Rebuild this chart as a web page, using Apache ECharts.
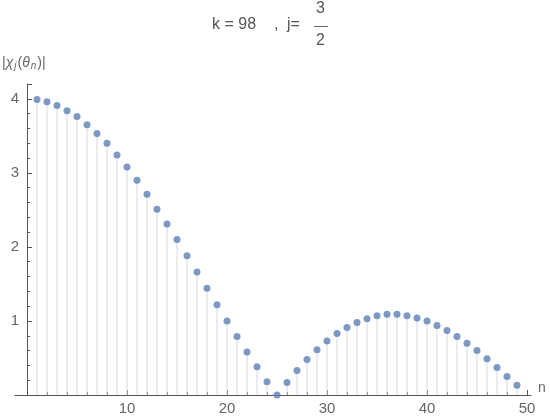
<!DOCTYPE html>
<html>
<head>
<meta charset="utf-8">
<script src="https://cdn.jsdelivr.net/npm/echarts@6/dist/echarts.min.js"></script>
<style>
  html, body { margin: 0; padding: 0; background: #fff; }
  #chart { width: 550px; height: 420px; }
</style>
</head>
<body>
<div id="chart"></div>
<script>
// n values and |chi_j(theta_n)|
const nValues = [1, 2, 3, 4, 5, 6, 7, 8, 9, 10, 11, 12, 13, 14, 15, 16, 17, 18, 19, 20,
  21, 22, 23, 24, 25, 26, 27, 28, 29, 30, 31, 32, 33, 34, 35, 36, 37, 38, 39, 40,
  41, 42, 43, 44, 45, 46, 47, 48, 49]
const chiValues = [3.99, 3.96, 3.91, 3.84, 3.76, 3.65, 3.53, 3.40, 3.24, 3.08,
  2.90, 2.71, 2.51, 2.31, 2.10, 1.88, 1.66, 1.44, 1.22, 1.00,
  0.79, 0.58, 0.38, 0.18, 0.00, 0.17, 0.33, 0.48, 0.61, 0.73,
  0.83, 0.91, 0.98, 1.03, 1.07, 1.09, 1.09, 1.07, 1.04, 1.00,
  0.94, 0.87, 0.79, 0.70, 0.60, 0.49, 0.37, 0.25, 0.13]

const points = nValues.map((n, i) => [n, chiValues[i]])

const axisColor = '#555'
const labelColor = '#666'
const font = 'Liberation Sans, Arial, sans-serif'

const chart = echarts.init(document.getElementById('chart'))

const option = {
  animation: false,
  grid: [
    // plot grid: n from 0 to 50
    {left: 27, right: 23, top: 84, bottom: 25, outerBoundsMode: 'none'},
    // wider grid only for the x axis line, which runs a little past both ends
    {left: 15, right: 19, top: 84, bottom: 25, outerBoundsMode: 'none'}
  ],
  xAxis: [
    {
      type: 'value', gridIndex: 0, min: 0, max: 50, interval: 10,
      axisLine: {show: false, onZero: false},
      axisTick: {show: true, inside: true, length: 5, lineStyle: {color: axisColor}},
      minorTick: {show: true, splitNumber: 5, length: 3, lineStyle: {color: axisColor}},
      axisLabel: {showMinLabel: false, color: labelColor, fontSize: 15, fontFamily: font, margin: 6},
      splitLine: {show: false},
      minorSplitLine: {show: false}
    },
    {
      type: 'value', gridIndex: 1, min: -1.2, max: 50.4,
      name: 'n', nameLocation: 'end', nameGap: 7,
      nameTextStyle: {color: labelColor, fontSize: 14, fontFamily: font, verticalAlign: 'bottom'},
      axisLine: {show: true, onZero: false, lineStyle: {color: axisColor, width: 1}},
      axisTick: {show: false},
      axisLabel: {show: false},
      splitLine: {show: false}
    }
  ],
  yAxis: [
    {
      type: 'value', gridIndex: 0, min: 0, max: 4.2, interval: 1, position: 'left',
      axisLine: {show: true, onZero: false, lineStyle: {color: axisColor, width: 1}},
      axisTick: {show: true, inside: true, length: 5, lineStyle: {color: axisColor}},
      minorTick: {show: true, splitNumber: 5, length: 3, lineStyle: {color: axisColor}},
      axisLabel: {
        showMinLabel: false, showMaxLabel: false,
        color: labelColor, fontSize: 15, fontFamily: font, margin: 8,
        formatter: v => (Number.isInteger(v) && v > 0 ? String(v) : '')
      },
      splitLine: {show: false},
      minorSplitLine: {show: false}
    },
    {
      type: 'value', gridIndex: 1, min: 0, max: 4.2, show: false
    }
  ],
  graphic: [
    // y axis label |chi_j(theta_n)|
    {
      type: 'text', left: 2, top: 56,
      style: {
        text: '{n||}{i|χ}{s|j}{n|(}{i|θ}{s|n}{n|)|}',
        rich: {
          n: {fontSize: 14, fill: labelColor, fontFamily: font},
          i: {fontSize: 14, fill: labelColor, fontFamily: font, fontStyle: 'italic'},
          s: {fontSize: 10, fill: labelColor, fontFamily: font, fontStyle: 'italic', verticalAlign: 'bottom', padding: [6, 1, 0, 1]}
        }
      }
    },
    // title: k = 98 , j = 3/2
    {type: 'text', left: 212, top: 17, style: {text: 'k = 98', fontSize: 16, fill: '#555', fontFamily: font}},
    {type: 'text', left: 274, top: 17, style: {text: ',', fontSize: 16, fill: '#555', fontFamily: font}},
    {type: 'text', left: 287, top: 17, style: {text: 'j=', fontSize: 16, fill: '#555', fontFamily: font}},
    {type: 'text', left: 316, top: 1, style: {text: '3', fontSize: 16, fill: '#555', fontFamily: font}},
    {type: 'line', shape: {x1: 314, y1: 26.5, x2: 328, y2: 26.5}, style: {stroke: '#666', lineWidth: 1}},
    {type: 'text', left: 316, top: 33, style: {text: '2', fontSize: 16, fill: '#555', fontFamily: font}}
  ],
  series: [
    {
      type: 'bar', xAxisIndex: 0, yAxisIndex: 0,
      data: points, barWidth: 1,
      itemStyle: {color: '#d3d9e2'},
      z: 1
    },
    {
      type: 'scatter', xAxisIndex: 0, yAxisIndex: 0,
      data: points, symbolSize: 7, clip: false,
      itemStyle: {color: '#5e81b5'},
      z: 3
    }
  ]
}

chart.setOption(option)
</script>
</body>
</html>
